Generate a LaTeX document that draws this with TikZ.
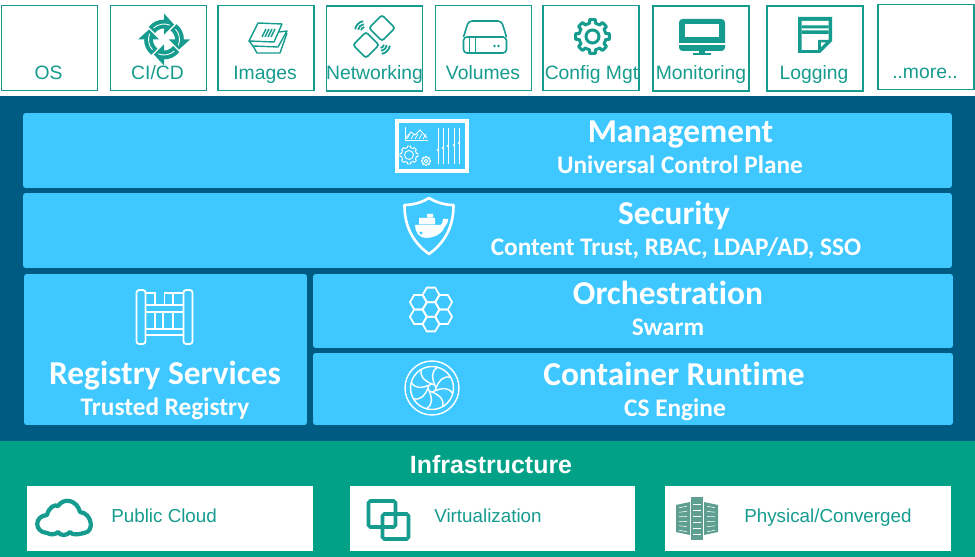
\documentclass[tikz,border=0pt]{standalone}
\usepackage{fontspec}
\setmainfont{Liberation Sans}
\newfontfamily\panelfont[Ligatures=NoCommon]{Carlito}
\usetikzlibrary{positioning}
\definecolor{tealink}{HTML}{159C8E}
\definecolor{bandgreen}{HTML}{00A186}
\definecolor{banddark}{HTML}{005B82}
\definecolor{panelblue}{HTML}{3FC7FF}
\definecolor{rackgrey}{HTML}{5F9F91}
\newcommand{\gearpath}[3]{plot[domain=0:360, samples=145] (\x:{#1+#2*(cos(#3*\x)>0)}) -- cycle}
\tikzset{
  upward/.style={y=0.02cm},
  cicd/.pic={\begin{scope}[upward]
    \foreach \a in {0,90,180,270} {
      \begin{scope}[rotate=\a]
        \draw[tealink, line width=5pt] (142:15.5) arc (142:88:15.5);
        \fill[tealink] (90:26) -- (90:5) -- (56:18) -- cycle;
        \draw[white, line width=0.5pt] (132:15.5) arc (132:68:15.5);
      \end{scope}
    }
  \end{scope}},
  imagestack/.pic={\begin{scope}[upward, tealink, line width=0.8pt, line join=round]
    \draw (-19,-3) -- (-10,15) -- (14,14) -- (6,-4) -- cycle;
    \draw (-19,-3) -- (-15,-8) -- (10,-9) -- (19,7) -- (11,6);
    \draw (-15,-8) -- (-11,-15) -- (12,-15) -- (19,5);
    \foreach \t in {-5,-2,1,4} \draw (\t-1,1) -- (\t+3,9);
  \end{scope}},
  netchips/.pic={\begin{scope}[upward, tealink, line width=1pt]
    \draw[rounded corners=1.5pt] (8,22) -- (21,9) -- (8,-4) -- (-5,9) -- cycle;
    \draw[rounded corners=1.5pt] (-8,5) -- (5,-8) -- (-8,-21) -- (-21,-8) -- cycle;
    \foreach \r in {4,7,10} {
      \draw (-9,6)++(100:\r) arc (100:170:\r);
      \draw (6,-7)++(-80:\r) arc (-80:-10:\r);
    }
  \end{scope}},
  diskunit/.pic={\begin{scope}[upward, tealink, line width=0.9pt, rounded corners=2pt]
    \draw (-21,0) -- (-16,16) -- (17,16) -- (22,0);
    \draw (-21,-16) rectangle (22,0);
    \draw[sharp corners] (-15,0) -- (-15,-16) (-9,0) -- (-9,-16);
    \fill (10,-9) circle (1.3) (14,-9) circle (1.3);
  \end{scope}},
  cfggear/.pic={\begin{scope}[upward, tealink]
    \draw[line width=1.7pt, line join=round] \gearpath{13.5}{3.5}{8};
    \draw[line width=1.7pt] (0,0) circle (6.5);
  \end{scope}},
  monitorset/.pic={\begin{scope}[upward]
    \fill[tealink, rounded corners=2pt] (-23,-16) rectangle (23,16);
    \fill[white] (-17,-2) rectangle (17,11);
    \draw[white, line width=0.6pt] (-23,-9) -- (23,-9);
    \fill[tealink] (-3,-16) rectangle (3,-18);
    \fill[tealink] (-9,-18) rectangle (9,-20);
  \end{scope}},
  logsheet/.pic={\begin{scope}[upward]
    \fill[tealink] (-17,19) -- (17,19) -- (17,-5) -- (5,-17) -- (-17,-17) -- cycle;
    \fill[white] (-13.5,15) -- (13.5,15) -- (13.5,-4) -- (3,-14) -- (-13.5,-14) -- cycle;
    \fill[tealink] (-13.5,10.5) rectangle (13.5,7.5) (-13.5,5.5) rectangle (13.5,2);
    \fill[tealink] (3,-4) -- (17,-4) -- (3,-17) -- cycle;
    \fill[white] (6,-6.5) -- (10.5,-6.5) -- (6,-11) -- cycle;
  \end{scope}},
  ctrlplane/.pic={\begin{scope}[upward, white]
    \draw[line width=1.8pt] (-35,-25) rectangle (35,25);
    \draw[line width=0.5pt] (-27,19) -- (-27,6) -- (-4,6);
    \draw[line width=0.5pt] (-27,7) -- (-21,14) -- (-17,11) -- (-12,16) -- (-5,8);
    \foreach \s in {-25,-21,-17,-13,-9} \draw[line width=0.4pt] (\s,7) -- (\s+3,12);
    \foreach \p/\k in {6/-4,11/-2,16/0,22/1,27/3} {
      \draw[line width=0.5pt] (\p,18) -- (\p,-18);
      \fill (\p,\k) circle (1.3);
    }
  \end{scope}},
  ctrlcogs/.pic={\begin{scope}[upward, white]
    \draw[line width=0.5pt] \gearpath{7.5}{1.5}{8};
    \draw[line width=0.5pt] (0,0) circle (4.5);
    \draw[line width=0.5pt, shift={(17,-6)}] \gearpath{3.5}{1}{8};
    \draw[line width=0.5pt, shift={(17,-6)}] (0,0) circle (1.8);
  \end{scope}},
  whaleshield/.pic={\begin{scope}[upward, white]
    \draw[line width=1.5pt, line join=round] (0,28) .. controls (-8,23) and (-17,21) .. (-24.5,21)
      .. controls (-24.5,2) and (-18,-15) .. (0,-28)
      .. controls (18,-15) and (24.5,2) .. (24.5,21)
      .. controls (17,21) and (8,23) .. (0,28) -- cycle;
    \fill (-14,1) -- (11,1) .. controls (14,1) and (13,5) .. (14,7) .. controls (15,9) and (16,6) .. (17,7)
      .. controls (18,8) and (20,7) .. (19,5) .. controls (18,1) and (15,-1) .. (15,-2)
      .. controls (12,-9) and (4,-12) .. (-3,-12) .. controls (-10,-12) and (-14,-6) .. (-14,1) -- cycle;
    \fill (-10,1.6) rectangle (6,8) (-2,8.6) rectangle (4,12);
    \fill[panelblue] (-8,-7) circle (1.7);
  \end{scope}},
  hexcell/.pic={\begin{scope}[upward]
    \draw[white, line width=1pt] (0:8.4) -- (60:8.4) -- (120:8.4) -- (180:8.4) -- (240:8.4) -- (300:8.4) -- cycle;
  \end{scope}},
  hexcluster/.pic={\begin{scope}[upward]
    \pic at (0,0) {hexcell};
    \foreach \a in {30,90,...,330} \pic at (\a:14.6) {hexcell};
  \end{scope}},
  turbine/.pic={\begin{scope}[upward, white, line width=0.8pt]
    \draw (0,0) circle (27) circle (21.5) circle (4);
    \foreach \a in {0,45,...,315} \draw (\a:4) .. controls (\a+45:10) and (\a+50:16) .. (\a+30:21.5);
  \end{scope}},
  rackframe/.pic={\begin{scope}[upward, white, line width=1pt]
    \draw[rounded corners=1.5pt] (-28,27) rectangle (-19,-27) (19,27) rectangle (28,-27);
    \draw (-19,12) -- (19,12) (-19,5) -- (19,5) (-19,-12) -- (19,-12) (-19,-18) -- (19,-18);
    \draw (-9.5,5) -- (-9.5,-12) (-1.5,5) -- (-1.5,-12) (8.5,5) -- (8.5,-12);
    \draw (-19,24) -- (-9.5,24) -- (-9.5,12) (0,12) -- (0,24) -- (19,24) (8.5,24) -- (8.5,12);
  \end{scope}},
  cloudmark/.pic={\begin{scope}[upward]
    \draw[tealink, line width=2.4pt, line join=round]
      (-17,-15) .. controls (-30,-14) and (-30,2) .. (-17,3)
      .. controls (-15,11) and (-9,14) .. (-6,12)
      .. controls (0,21) and (13,18) .. (16,6)
      .. controls (28,5) and (31,-14) .. (20,-15)
      .. controls (13,-17) and (8,-17) .. (6,-14)
      .. controls (3,-18) and (-4,-18) .. (-6,-14)
      .. controls (-9,-17) and (-13,-17) .. (-17,-15) -- cycle;
  \end{scope}},
  virtboxes/.pic={\begin{scope}[upward, tealink, line width=2pt, rounded corners=1pt]
    \draw (-20,19) rectangle (7,-7);
    \draw (-6,6) rectangle (20,-19);
  \end{scope}},
  serverrack/.pic={\begin{scope}[upward]
    \fill[rackgrey] (-6,22) rectangle (5.5,-21);
    \fill[rackgrey] (-21,14) -- (-7,17) -- (-7,-16) -- (-21,-13) -- cycle;
    \fill[rackgrey] (21,14) -- (7,17) -- (7,-16) -- (21,-13) -- cycle;
    \foreach \k in {-15,-9,...,15} {
      \draw[white, line width=0.45pt] (-4,\k) -- (3.5,\k);
      \draw[white, line width=0.3pt] (-18,\k*0.75) -- (-10,\k*0.85);
      \draw[white, line width=0.3pt] (18,\k*0.75) -- (10,\k*0.85);
    }
  \end{scope}}
}
\begin{document}
\begin{tikzpicture}[
  x=0.02cm, y=-0.02cm,
  tile/.style={rectangle, draw=tealink, line width=1.1pt, fill=white, minimum width=1.92cm, minimum height=1.7cm, inner sep=0pt},
  tilelabel/.style={anchor=base, text=tealink, font=\fontsize{11}{13}\selectfont, inner sep=0pt},
  band/.style={rectangle, minimum width=19.5cm, inner sep=0pt},
  panel/.style={rectangle, fill=panelblue, rounded corners=1.5pt, inner sep=0pt},
  paneltitle/.style={anchor=base, text=white, font=\panelfont\bfseries\fontsize{19}{22}\selectfont, inner sep=0pt},
  panelsub/.style={anchor=base, text=white, font=\panelfont\bfseries\fontsize{14.4}{16}\selectfont, inner sep=0pt},
  infrabox/.style={rectangle, fill=white, minimum height=1.3cm, inner sep=0pt},
  infralabel/.style={anchor=base west, text=tealink, font=\fontsize{10.7}{13}\selectfont, inner sep=0pt}
]
  \path[use as bounding box, fill=white] (0,0) rectangle (975,557);
  % Plug-in tiles (top)
  \node[tile] (os)      at ( 49.5,48) {};
  \node[tile] (cicd)    at (158.5,48) {};
  \node[tile] (images)  at (266,48) {};
  \node[tile] (network) at (374.5,48.5) {};
  \node[tile] (volumes) at (483.5,48) {};
  \node[tile] (config)  at (591,48) {};
  \node[tile] (monitor) at (701,48.5) {};
  \node[tile] (logging) at (815,48.5) {};
  \node[tile] (more)    at (926,47) {};
  \node[tilelabel] (oslabel)      at ( 48.5,80) {OS};
  \node[tilelabel] (cicdlabel)    at (157.5,80) {CI/CD};
  \node[tilelabel] (imageslabel)  at (265,80) {Images};
  \node[tilelabel] (networklabel) at (374.5,80) {Networking};
  \node[tilelabel] (volumeslabel) at (483,80) {Volumes};
  \node[tilelabel] (configlabel)  at (591.5,80) {Config Mgt};
  \node[tilelabel] (monitorlabel) at (701,80) {Monitoring};
  \node[tilelabel] (logginglabel) at (814,80) {Logging};
  \node[tilelabel] (morelabel)    at (925,79) {..more..};
  \pic at (164,39.5) {cicd};
  \pic at (268,38) {imagestack};
  \pic at (374,37) {netchips};
  \pic at (484.5,37) {diskunit};
  \pic at (592.5,36.5) {cfggear};
  \pic at (702,35) {monitorset};
  \pic at (815,36) {logsheet};
  % Dark band with the panels
  \node[band, fill=banddark, minimum height=6.9cm] (engine) at (487.5,268.5) {};
  \node[panel, minimum width=18.58cm, minimum height=1.5cm]  (mgmt)   at (487.5,150.5) {};
  \node[panel, minimum width=18.58cm, minimum height=1.5cm]  (secur)  at (487.5,230.5) {};
  \node[panel, minimum width=5.66cm,  minimum height=3.02cm] (regist) at (165.5,349.5) {};
  \node[panel, minimum width=12.8cm,  minimum height=1.48cm] (orch)   at (633,311) {};
  \node[panel, minimum width=12.8cm,  minimum height=1.44cm] (runtime) at (633,389) {};
  \node[paneltitle] (mgmttitle)    at (680.5,142.5) {Management};
  \node[panelsub]   (mgmtsub)      at (680,174) {Universal Control Plane};
  \node[paneltitle] (securtitle)   at (674,224.5) {Security};
  \node[panelsub]   (securub)      at (676,256) {Content Trust, RBAC, LDAP/AD, SSO};
  \node[paneltitle] (orchtitle)    at (668,304.5) {Orchestration};
  \node[panelsub]   (orchsub)      at (668,336) {Swarm};
  \node[paneltitle] (runtimetitle) at (674,385.5) {Container Runtime};
  \node[panelsub]   (runtimesub)   at (675,417) {CS Engine};
  \node[paneltitle] (registtitle)  at (165,384.5) {Registry Services};
  \node[panelsub]   (registsub)    at (165,416) {Trusted Registry};
  \pic at (432,146) {ctrlplane};
  \pic at (409,155) {ctrlcogs};
  \pic at (429,226) {whaleshield};
  \pic at (431,309.5) {hexcluster};
  \pic at (432,388) {turbine};
  \pic at (164.5,317) {rackframe};
  % Infrastructure band (bottom)
  \node[band, fill=bandgreen, minimum height=2.32cm] (infra) at (487.5,499) {};
  \node[anchor=base, text=white, font=\bfseries\fontsize{14.2}{16}\selectfont, inner sep=0pt] (infratitle) at (491,473.5) {Infrastructure};
  \node[infrabox, minimum width=5.72cm] (cloud) at (170,518.5) {};
  \node[infrabox, minimum width=5.7cm]  (virt)  at (492.5,518.5) {};
  \node[infrabox, minimum width=5.72cm] (phys)  at (808,518.5) {};
  \node[infralabel] (cloudlabel) at (111,522.5) {Public Cloud};
  \node[infralabel] (virtlabel)  at (434,522.5) {Virtualization};
  \node[infralabel] (physlabel)  at (744,522.5) {Physical/Converged};
  \pic at (64,518) {cloudmark};
  \pic at (388.5,520) {virtboxes};
  \pic at (697,519) {serverrack};
\end{tikzpicture}
\end{document}
